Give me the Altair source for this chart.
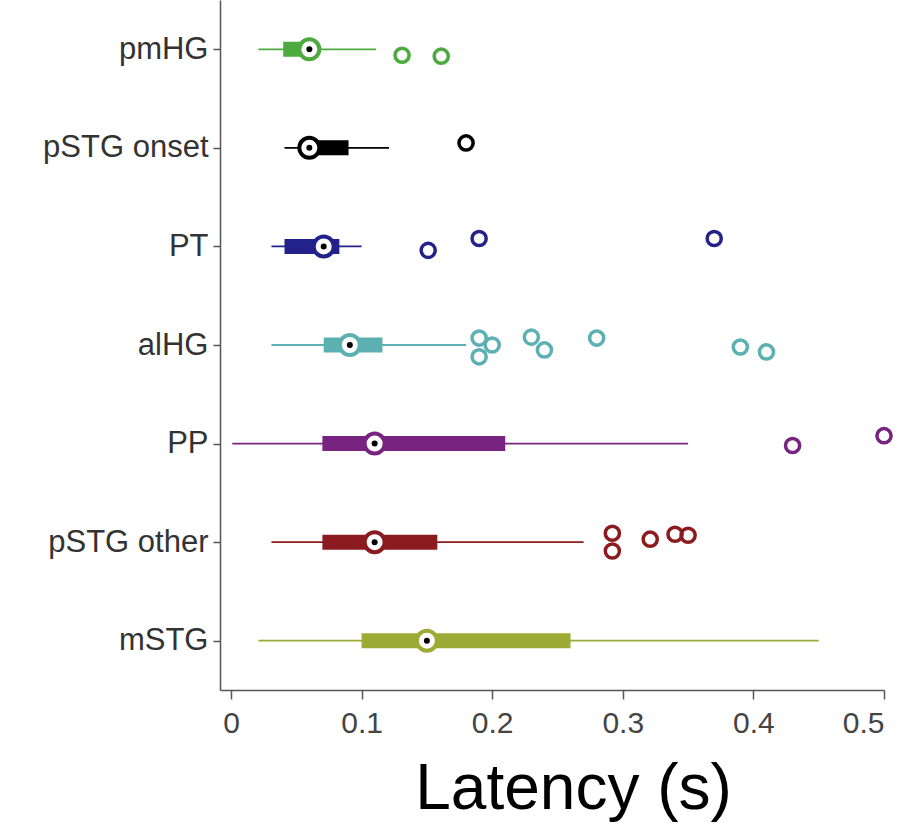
import json
import altair as alt
import pandas as pd

# ---- data ----
regions = ["pmHG", "pSTG onset", "PT", "alHG", "PP", "pSTG other", "mSTG"]
colors = ["#4caa3e", "#000000", "#22228a", "#5cb0b2", "#78237f", "#8c1b1f", "#9cab35"]
whisk_lo = [0.021, 0.041, 0.031, 0.031, 0.001, 0.031, 0.021]
q1 = [0.040, 0.055, 0.041, 0.071, 0.070, 0.070, 0.100]
median = [0.060, 0.060, 0.071, 0.091, 0.110, 0.110, 0.150]
q3 = [0.066, 0.090, 0.083, 0.116, 0.210, 0.158, 0.260]
whisk_hi = [0.111, 0.121, 0.100, 0.180, 0.350, 0.270, 0.450]

out_region = ["pmHG", "pmHG", "pSTG onset", "PT", "PT", "PT",
              "alHG", "alHG", "alHG", "alHG", "alHG", "alHG", "alHG", "alHG",
              "PP", "PP",
              "pSTG other", "pSTG other", "pSTG other", "pSTG other", "pSTG other"]
out_value = [0.131, 0.161, 0.180, 0.151, 0.190, 0.370,
             0.190, 0.190, 0.200, 0.230, 0.240, 0.280, 0.390, 0.410,
             0.430, 0.500,
             0.292, 0.292, 0.321, 0.340, 0.350]
# vertical scatter of the outlier circles (fraction of a row)
out_jitter = [0.06, 0.07, -0.05, 0.04, -0.08, -0.08,
              -0.07, 0.12, 0.00, -0.08, 0.05, -0.07, 0.02, 0.07,
              0.02, -0.08,
              -0.09, 0.09, -0.03, -0.08, -0.07]

box = pd.DataFrame({
    "region": regions,
    "pos": list(range(len(regions))),
    "lo": whisk_lo, "q1": q1, "med": median, "q3": q3, "hi": whisk_hi,
})
outl = pd.DataFrame({"region": out_region, "value": out_value, "jit": out_jitter})
outl["ypos"] = outl["region"].map({r: i for i, r in enumerate(regions)}) + outl["jit"]

label_expr = json.dumps(regions) + "[datum.value]"

xscale = alt.Scale(domain=[-0.0084, 0.5], nice=False, zero=False)
yscale = alt.Scale(domain=[-0.5, len(regions) - 0.5], reverse=True, nice=False, zero=False)
cscale = alt.Scale(domain=regions, range=colors)

x_axis = alt.Axis(
    values=[0, 0.1, 0.2, 0.3, 0.4, 0.5], format="~g", grid=False,
    domainColor="#555555", domainWidth=1.5, tickColor="#555555", tickWidth=1.5,
    tickSize=9, labelFont="Liberation Sans", labelFontSize=30, labelColor="#444444",
    labelPadding=9, title="Latency (s)", titleFont="Liberation Sans", titleFontSize=64,
    titleFontWeight="normal", titleColor="#000000", titleX=353, titleY=118,
    titleAnchor="start", titleAlign="center", titleBaseline="alphabetic",
)
y_axis = alt.Axis(
    values=list(range(len(regions))), labelExpr=label_expr, grid=False, title=None,
    domainColor="#555555", domainWidth=1.5, tickColor="#555555", tickWidth=1.5,
    tickSize=7, labelFont="Liberation Sans", labelFontSize=31, labelColor="#333333",
    labelPadding=5,
)

base = alt.Chart(box)
color = alt.Color("region:N", scale=cscale, legend=None)

whisk = base.mark_rule(strokeWidth=1.8).encode(
    x=alt.X("lo:Q", scale=xscale, axis=x_axis), x2="hi:Q",
    y=alt.Y("pos:Q", scale=yscale, axis=y_axis), color=color,
)
boxes = base.mark_rule(strokeWidth=15, strokeCap="butt").encode(
    x="q1:Q", x2="q3:Q", y="pos:Q", color=color,
)
med_ring = base.mark_point(shape="circle", filled=False, fill="white", fillOpacity=1,
                           size=400, strokeWidth=4, opacity=1).encode(
    x="med:Q", y="pos:Q", color=color,
)
med_dot = base.mark_point(shape="circle", filled=True, size=36, color="black", opacity=1).encode(
    x="med:Q", y="pos:Q",
)
outliers = alt.Chart(outl).mark_point(shape="circle", filled=False, size=200,
                                      strokeWidth=3.5, opacity=1).encode(
    x="value:Q", y="ypos:Q", color=color,
)

chart = alt.layer(whisk, boxes, med_ring, med_dot, outliers).properties(
    width=664, height=690,
    autosize=alt.AutoSizeParams(type="none"),
    padding={"left": 220, "top": 0, "right": 22, "bottom": 142},
    background="white",
).configure_view(stroke=None)

chart.save("out.html", embed_options={"renderer": "svg", "actions": False})
